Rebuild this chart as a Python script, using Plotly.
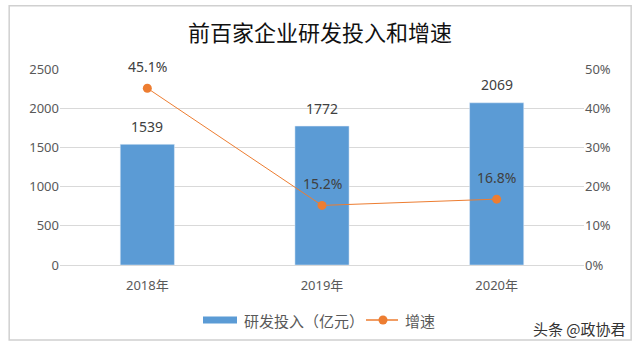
import plotly.graph_objects as go

categories = ["2018年", "2019年", "2020年"]
rd_invest = [1539, 1772, 2069]
growth = [45.1, 15.2, 16.8]
growth_labels = ["45.1%", "15.2%", "16.8%"]
y1_ticks = [0, 500, 1000, 1500, 2000, 2500]
y2_ticks = [0, 10, 20, 30, 40, 50]
y2_ticklabels = ["0%", "10%", "20%", "30%", "40%", "50%"]
bar_name = "研发投入（亿元）"
line_name = "增速"

font_cjk = "Noto Sans CJK SC"
font_num = "Noto Sans, " + font_cjk
BLUE = "#5B9BD5"
ORANGE = "#ED7D31"

fig = go.Figure()
fig.add_trace(go.Bar(
    x=categories, y=rd_invest, name=bar_name,
    marker=dict(color=BLUE), yaxis="y", showlegend=False,
))
fig.add_trace(go.Scatter(
    x=categories, y=growth, name=line_name, mode="lines+markers",
    line=dict(color=ORANGE, width=1),
    marker=dict(color=ORANGE, size=9),
    cliponaxis=False, yaxis="y2", showlegend=False,
))

# data labels
for c, v in zip(categories, rd_invest):
    fig.add_annotation(x=c, y=v, xref="x", yref="y", text=str(v),
                       showarrow=False, yanchor="middle", yshift=18,
                       font=dict(size=14, color="#404040", family=font_num))
for c, v, t in zip(categories, growth, growth_labels):
    fig.add_annotation(x=c, y=v, xref="x", yref="y2", text=t,
                       showarrow=False, yanchor="middle", yshift=22,
                       font=dict(size=14, color="#404040", family=font_num))

fig.update_layout(
    width=640, height=352,
    margin=dict(l=60, r=56, t=69, b=87),
    paper_bgcolor="white", plot_bgcolor="white",
    bargap=0.69,
    showlegend=False,
    title=dict(text="前百家企业研发投入和增速", x=0.5, xanchor="center",
               y=1 - 33 / 352, yanchor="middle",
               font=dict(size=22, color="#111111", family=font_cjk)),
    xaxis=dict(showgrid=False, showline=True, linecolor="#D9D9D9",
               tickfont=dict(size=13, color="#595959", family=font_num),
               ticks="", ticklabelstandoff=8, range=[-0.5, 2.5]),
    yaxis=dict(range=[0, 2500], tickvals=y1_ticks, showgrid=True,
               gridcolor="#D9D9D9", zeroline=False,
               tickfont=dict(size=13, color="#595959", family=font_num),
               ticksuffix="  "),
    yaxis2=dict(range=[0, 50], tickvals=y2_ticks, ticktext=y2_ticklabels,
                overlaying="y", side="right", showgrid=False, zeroline=False,
                tickfont=dict(size=13, color="#595959", family=font_num),
                tickprefix="  "),
)

# outer frame
fig.add_shape(type="rect", xref="paper", yref="paper",
              x0=-0.097, x1=1.09, y0=-0.383, y1=1.323,
              line=dict(color="#D0D0D0", width=1.5), layer="below")

# custom legend
def px(x):
    return (x - 60) / 524

def py(y):
    return (265 - y) / 196

fig.add_shape(type="rect", xref="paper", yref="paper",
              x0=px(203), x1=px(237), y0=py(323.5), y1=py(316.5),
              fillcolor=BLUE, line=dict(width=0))
fig.add_annotation(text=bar_name, xref="paper", yref="paper",
                   x=px(242), y=py(320), xanchor="left", yanchor="middle",
                   showarrow=False,
                   font=dict(size=15, color="#595959", family=font_cjk))
fig.add_shape(type="line", xref="paper", yref="paper",
              x0=px(366), x1=px(398), y0=py(320), y1=py(320),
              line=dict(color=ORANGE, width=1.5))
fig.add_shape(type="circle", xref="paper", yref="paper",
              x0=px(378.5), x1=px(387.5), y0=py(324.5), y1=py(315.5),
              fillcolor=ORANGE, line=dict(width=0))
fig.add_annotation(text=line_name, xref="paper", yref="paper",
                   x=px(403), y=py(320), xanchor="left", yanchor="middle",
                   showarrow=False,
                   font=dict(size=15, color="#595959", family=font_cjk))

fig.add_annotation(text="头条 @政协君", xref="paper", yref="paper",
                   x=px(628), y=py(328), xanchor="right", yanchor="middle",
                   showarrow=False,
                   font=dict(size=15, color="#333333", family=font_cjk))

fig.write_html("out.html")
